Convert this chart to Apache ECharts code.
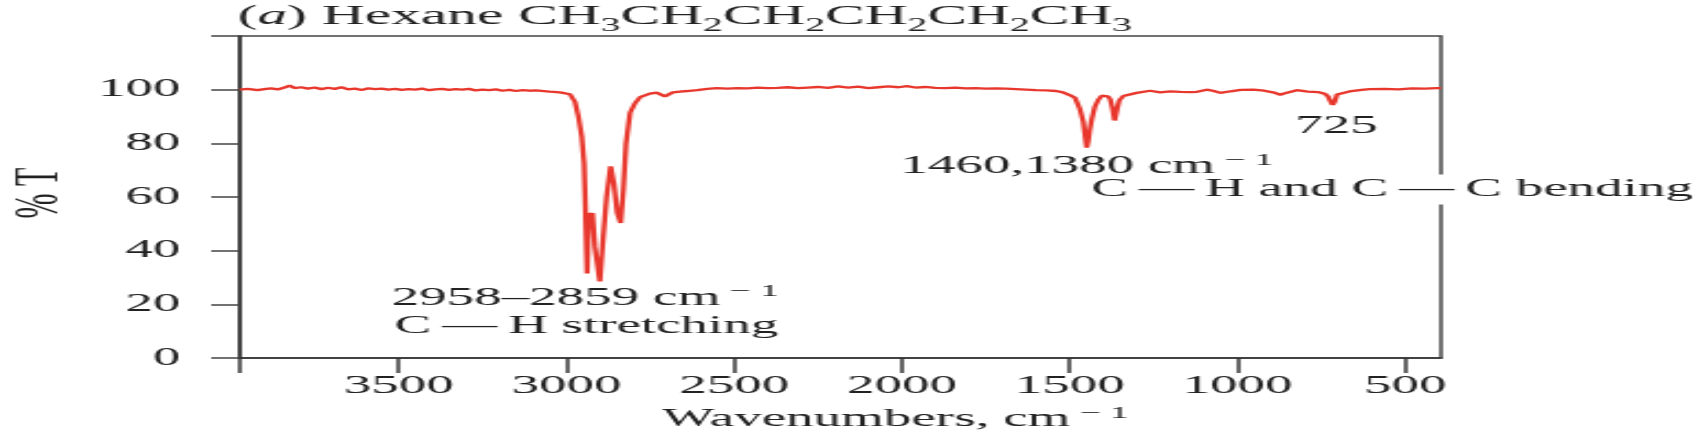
<!DOCTYPE html>
<html>
<head>
<meta charset="utf-8">
<script src="https://cdn.jsdelivr.net/npm/echarts/dist/echarts.min.js"></script>
<style>
html,body{margin:0;padding:0;background:#fff;}
#wrap{width:1696px;height:438px;overflow:hidden;position:relative;background:#fff;}
#chart{width:771px;height:438px;transform:scaleX(2.2);transform-origin:0 0;}
</style>
</head>
<body>
<div id="wrap"><div id="chart"></div></div>
<script>
// Wavenumbers (cm^-1) and % transmittance
const wavenumbers = [3973,3950,3920,3900,3880,3860,3840,3825,3810,3790,3770,3750,3730,3710,3690,3670,3650,3630,3610,3590,3570,3550,3530,3510,3490,3470,3450,3430,3410,3390,3370,3350,3330,3310,3290,3270,3250,3230,3210,3190,3170,3150,3130,3110,3090,3079,3050,3019,2989,2974,2964,2954,2947,2944,2941,2938,2933,2928,2922,2915,2900,2890,2880,2868,2858,2848,2838,2830,2822,2810,2795,2780,2751,2731,2706,2682,2661,2640,2610,2580,2552,2520,2490,2460,2430,2400,2370,2340,2310,2280,2250,2220,2190,2160,2130,2100,2070,2040,2010,1985,1960,1930,1900,1870,1840,1810,1780,1750,1720,1690,1660,1630,1600,1570,1540,1520,1500,1484,1470,1459,1452,1449,1445,1440,1434,1425,1414,1404,1394,1386,1379,1372,1366,1362,1358,1352,1340,1329,1300,1260,1230,1200,1170,1140,1131,1120,1091,1070,1051,1020,990,953,920,890,872,855,823,790,760,740,730,722,716,710,703,695,660,630,605,560,520,480,440,406,393];
const transmittance = [100.0,100.3,99.8,100.2,100.5,100.1,100.8,101.5,100.6,100.9,100.4,100.8,100.2,100.7,100.3,100.9,100.1,100.4,99.9,100.5,100.2,100.4,100.0,100.3,99.9,100.2,100.0,100.4,99.8,100.1,100.3,99.9,100.2,100.0,100.3,99.7,100.0,99.8,100.1,99.6,99.9,99.5,99.8,99.6,99.7,99.4,99.3,99.0,98.3,95.4,90.0,82.6,72.6,60.0,45.0,31.5,54.0,53.0,54.0,41.5,28.5,45.0,60.0,71.4,65.0,54.0,50.3,62.7,80.0,91.4,95.0,97.2,98.5,98.9,97.5,99.0,99.3,99.5,99.8,100.3,100.6,100.4,100.6,100.5,100.8,100.6,100.7,100.9,100.6,100.8,101.0,100.7,101.2,100.8,101.1,100.6,100.9,101.2,100.9,101.3,100.8,101.0,100.7,100.6,100.8,100.5,100.6,100.4,100.5,100.4,100.2,100.0,99.8,99.7,99.5,99.0,98.0,97.0,93.0,88.0,81.0,78.4,80.5,85.0,89.0,93.5,96.3,97.8,98.1,97.5,96.5,93.0,88.5,88.5,93.0,96.0,97.6,98.1,98.8,99.6,99.0,99.4,99.2,99.1,98.5,99.2,100.0,99.5,98.8,99.4,99.9,100.0,99.6,98.9,98.1,98.8,99.8,99.3,99.1,98.5,97.5,95.5,94.3,95.5,98.2,98.9,99.5,99.9,100.2,100.3,100.1,100.5,100.4,100.6,100.6];
const xTickLabels = [3500,3000,2500,2000,1500,1000,500];
const yTickLabels = [0,20,40,60,80,100];

const FONT = "'Liberation Serif','Times New Roman',serif";
const TXT = '#222';
const chart = echarts.init(document.getElementById('chart'), null, {renderer:'canvas'});

function textEl(x, y, text, rich, align, extra) {
  return {
    type: 'text', x: x, y: y, z: 100,
    style: Object.assign({
      text: text, rich: rich, font: "25px " + FONT, fill: TXT,
      align: align || 'left', verticalAlign: 'top'
    }, extra || {})
  };
}
const annRich = {
  n: {fontFamily: FONT, fontSize: 25, lineHeight: 30, color: TXT},
  sup: {fontFamily: FONT, fontSize: 17, lineHeight: 17, color: TXT, verticalAlign: 'top'}
};
const titleRich = {
  n: {fontFamily: FONT, fontSize: 27, lineHeight: 36, color: TXT},
  i: {fontFamily: FONT, fontSize: 27, lineHeight: 36, color: TXT, fontStyle: 'italic'},
  s: {fontFamily: FONT, fontSize: 18, lineHeight: 18, color: TXT, verticalAlign: 'bottom'}
};
const TS = '\u2009';

const option = {
  animation: false,
  backgroundColor: '#fff',
  grid: {left: 109, right: 116, top: 36, bottom: 80, show: true, borderColor: '#444', borderWidth: 1.5},
  xAxis: {
    type: 'value', inverse: true, min: 393, max: 3973,
    axisLine: {show: true, onZero: false, lineStyle: {color: '#333', width: 1.5}},
    axisTick: {show: true, length: 15, inside: false, customValues: [3973].concat(xTickLabels), lineStyle: {color: '#333', width: 1.5}},
    axisLabel: {customValues: xTickLabels, margin: 16, fontFamily: FONT, fontSize: 25, color: TXT,
      formatter: function (v) { return String(v); }},
    splitLine: {show: false}
  },
  yAxis: {
    type: 'value', min: 0, max: 120, interval: 20,
    axisLine: {show: true, lineStyle: {color: '#333', width: 1.5}},
    axisTick: {show: true, length: 13, lineStyle: {color: '#444', width: 1.5}},
    axisLabel: {margin: 27, fontFamily: FONT, fontSize: 25, color: TXT,
      formatter: function (v) { return yTickLabels.indexOf(v) >= 0 ? String(v) : ''; }},
    splitLine: {show: false}
  },
  series: [{
    type: 'line', showSymbol: false, symbol: 'none', smooth: false,
    data: wavenumbers.map(function (w, i) { return [w, transmittance[i]]; }),
    lineStyle: {color: '#e8372c', width: 2.3}
  }],
  graphic: [
    textEl(108, -1, '{n|(}{i|a}{n|) Hexane CH}{s|3}{n|CH}{s|2}{n|CH}{s|2}{n|CH}{s|2}{n|CH}{s|2}{n|CH}{s|3}', titleRich),
    textEl(266, 283.5, '{n|2958–2859 cm}{sup| − 1}', annRich, 'center'),
    textEl(266.5, 311, '{n|C' + TS + '—' + TS + 'H stretching}', annRich, 'center'),
    textEl(494, 151.6, '{n|1460,1380 cm}{sup| − 1}', annRich, 'center'),
    textEl(496, 174.6, '{n|C' + TS + '—' + TS + 'H and C' + TS + '—' + TS + 'C bending}', annRich, 'left', {backgroundColor: '#fff'}),
    textEl(607.6, 111.6, '{n|725}', annRich, 'center'),
    textEl(407, 404.6, '{n|Wavenumbers, cm}{sup| − 1}', annRich, 'center'),
    {type: 'text', x: 18, y: 193, rotation: Math.PI / 2, z: 100,
      style: {text: '% T', font: "30px " + FONT, fill: TXT, align: 'center', verticalAlign: 'middle'}}
  ]
};
chart.setOption(option);
</script>
</body>
</html>
